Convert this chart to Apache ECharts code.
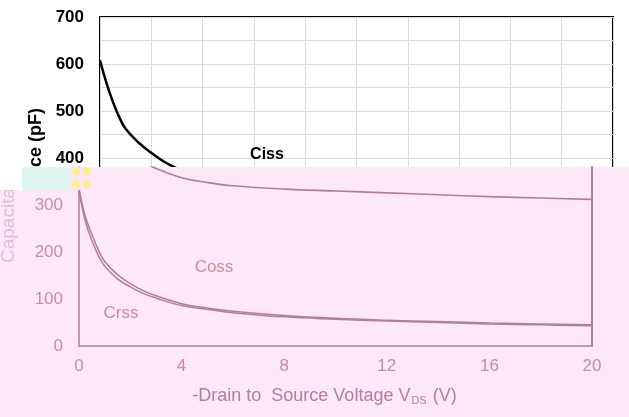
<!DOCTYPE html>
<html>
<head>
<meta charset="utf-8">
<script src="https://cdn.jsdelivr.net/npm/echarts@6/dist/echarts.min.js"></script>
<style>html,body{margin:0;padding:0;background:#fff}#c{width:629px;height:417px}</style>
</head>
<body>
<div id="c"></div>
<script>
// Data
const volts = [0, 0.25, 0.5, 0.75, 1, 1.5, 2, 2.5, 3, 4, 5, 6, 8, 10, 12, 14, 16, 18, 20];
const ciss  = [608, 560, 520, 487, 462, 433, 411, 392, 378, 358, 348, 341, 334, 330, 326, 322, 318, 315, 312];
const coss  = [335, 275, 238, 205, 180, 152, 133, 118, 107, 90, 81, 74, 65, 59, 55, 52, 49, 47, 45];
const crss  = [330, 265, 225, 193, 170, 143, 126, 112, 102, 86, 78, 71, 62, 57, 53, 50, 47, 45, 43];
const xTicksBottom = [0, 4, 8, 12, 16, 20];
const yTicks = [0, 100, 200, 300, 400, 500, 600, 700];

const pair = (xs, ys) => xs.map((x, i) => [x, ys[i]]);

const PINK_BG = '#fce8f9';
const MAUVE = '#b27d98';
const PINK_TXT = '#c98c9e';

const chart = echarts.init(document.getElementById('c'), null, {renderer: 'canvas'});
chart.setOption({
  animation: false,
  backgroundColor: '#ffffff',
  grid: [
    {left: 100, right: 16, top: 17, bottom: 71, show: true, borderColor: '#000', borderWidth: 2, z: 0},
    {left: 79, right: 37, top: 167, bottom: 71, show: false, z: 10}
  ],
  xAxis: [
    {gridIndex: 0, type: 'value', min: 0, max: 20, interval: 2, z: 0,
     axisLine: {show: false}, axisTick: {show: false}, axisLabel: {show: false},
     splitLine: {show: true, lineStyle: {color: '#d9d9d9', width: 1}}},
    {gridIndex: 1, type: 'value', min: 0, max: 20, interval: 4, z: 10,
     axisLine: {show: true, lineStyle: {color: MAUVE, width: 1.5}},
     axisTick: {show: false},
     axisLabel: {color: PINK_TXT, fontSize: 17, margin: 12, fontFamily: 'Liberation Sans, sans-serif',
       formatter: v => xTicksBottom.includes(v) ? String(v) : ''},
     splitLine: {show: false},
     name: '-Drain to  Source Voltage V{sub|DS} (V)',
     nameLocation: 'middle', nameGap: 41,
     nameTextStyle: {color: '#b57c9c', fontSize: 18, fontFamily: 'Liberation Sans, sans-serif', padding: [0, 22, 0, 0],
       rich: {sub: {fontSize: 11, color: '#b57c9c', verticalAlign: 'bottom', padding: [8, 1, 0, 1]}}}}
  ],
  yAxis: [
    {gridIndex: 0, type: 'value', min: 0, max: 700, interval: 50, z: 0,
     axisLine: {show: false}, axisTick: {show: false},
     axisLabel: {color: '#000', fontSize: 17, fontWeight: 'bold', margin: 16, fontFamily: 'Liberation Sans, sans-serif',
       formatter: v => yTicks.includes(v) ? String(v) : ''},
     splitLine: {show: true, lineStyle: {color: '#d9d9d9', width: 1}},
     name: 'Capacitance (pF)', nameLocation: 'middle', nameGap: 55,
     nameTextStyle: {color: '#000', fontSize: 18, fontWeight: 'bold', fontFamily: 'Liberation Sans, sans-serif', padding: [0, 0, 0, 2]}},
    {gridIndex: 1, type: 'value', min: 0, max: 381, interval: 100, z: 10,
     axisLine: {show: true, lineStyle: {color: MAUVE, width: 1.5}},
     axisTick: {show: false},
     axisLabel: {color: PINK_TXT, fontSize: 17, margin: 16, fontFamily: 'Liberation Sans, sans-serif',
       formatter: v => yTicks.includes(v) ? String(v) : ''},
     splitLine: {show: false}},
    {gridIndex: 1, type: 'value', min: 0, max: 381, position: 'right', z: 10,
     axisLine: {show: true, lineStyle: {color: MAUVE, width: 2}},
     axisTick: {show: false}, axisLabel: {show: false}, splitLine: {show: false}}
  ],
  series: [
    {name: 'Ciss', type: 'line', xAxisIndex: 0, yAxisIndex: 0, data: pair(volts, ciss), smooth: 0.4,
     showSymbol: false, z: 2, lineStyle: {color: '#000', width: 2.5}},
    {name: 'Ciss', type: 'line', xAxisIndex: 1, yAxisIndex: 1, data: pair(volts, ciss), smooth: 0.4,
     showSymbol: false, z: 11, lineStyle: {color: MAUVE, width: 1.6}},
    {name: 'Coss', type: 'line', xAxisIndex: 1, yAxisIndex: 1, data: pair(volts, coss), smooth: 0.4,
     showSymbol: false, z: 11, lineStyle: {color: MAUVE, width: 1.5}},
    {name: 'Crss', type: 'line', xAxisIndex: 1, yAxisIndex: 1, data: pair(volts, crss), smooth: 0.4,
     showSymbol: false, z: 11, lineStyle: {color: MAUVE, width: 1.5}}
  ],
  graphic: {
    elements: [
      {type: 'text', x: 267, y: 155, z: 3,
       style: {text: 'Ciss', fill: '#000', font: 'bold 16px "Liberation Sans", sans-serif', textAlign: 'center', textVerticalAlign: 'middle'}},
      {type: 'rect', z: 5, shape: {x: 90, y: 167, width: 539, height: 23}, style: {fill: PINK_BG}},
      {type: 'rect', z: 5, shape: {x: 0, y: 190, width: 629, height: 227}, style: {fill: PINK_BG}},
      {type: 'text', z: 6, x: 9, y: 263, rotation: Math.PI / 2,
       style: {text: 'Capacitance (pF)', fill: '#e2bdd6', font: '19px "Liberation Sans", sans-serif', textAlign: 'left', textVerticalAlign: 'middle'}},
      {type: 'rect', z: 7, shape: {x: 0, y: 0, width: 21, height: 190}, style: {fill: '#ffffff'}},
      {type: 'rect', z: 12, shape: {x: 22, y: 167, width: 48, height: 23}, style: {fill: '#def6f0'}},
      {type: 'rect', z: 12, shape: {x: 70, y: 167, width: 20, height: 23}, style: {fill: '#f9e6f3'}},
      {type: 'circle', z: 13, shape: {cx: 76, cy: 171, r: 3.5}, style: {fill: '#fff07a'}},
      {type: 'circle', z: 13, shape: {cx: 87, cy: 171, r: 3.5}, style: {fill: '#fff07a'}},
      {type: 'circle', z: 13, shape: {cx: 76, cy: 184, r: 3.5}, style: {fill: '#fff07a'}},
      {type: 'circle', z: 13, shape: {cx: 87, cy: 184, r: 3.5}, style: {fill: '#fff07a'}},
      {type: 'text', z: 12, x: 214, y: 267,
       style: {text: 'Coss', fill: PINK_TXT, font: '17px "Liberation Sans", sans-serif', textAlign: 'center', textVerticalAlign: 'middle'}},
      {type: 'text', z: 12, x: 121, y: 313,
       style: {text: 'Crss', fill: PINK_TXT, font: '17px "Liberation Sans", sans-serif', textAlign: 'center', textVerticalAlign: 'middle'}}
    ]
  }
});
</script>
</body>
</html>
